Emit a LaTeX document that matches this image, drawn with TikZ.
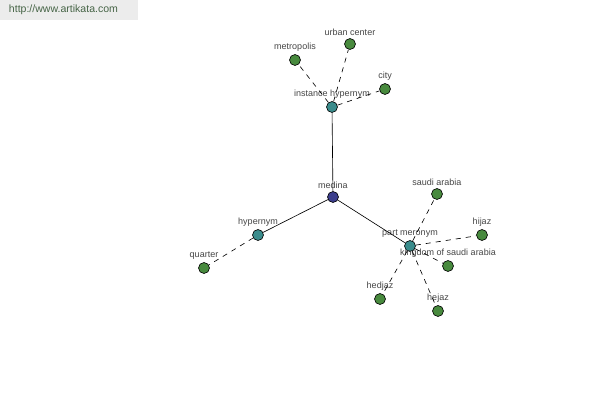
\documentclass[tikz,border=0pt]{standalone}
\usepackage{fontspec}
\setmainfont{Liberation Sans}
\usepackage{xcolor}
\usetikzlibrary{positioning}

\definecolor{leafgreen}{RGB}{72,138,62}
\definecolor{relteal}{RGB}{58,140,140}
\definecolor{rootblue}{RGB}{60,62,140}
\definecolor{labelgray}{RGB}{70,70,70}
\definecolor{bannergray}{RGB}{236,236,236}
\definecolor{bannertext}{RGB}{70,100,70}

\begin{document}
\begin{tikzpicture}[
    x=0.025cm, y=-0.025cm,
    word/.style={circle, draw, line width=0.45pt, inner sep=0pt, minimum size=7.8pt,
                 label={[text=labelgray, font=\fontsize{6.4}{7}\selectfont, label distance=-1.4pt]above:#1}},
    leaf/.style={word=#1, fill=leafgreen},      % leaf words
    rel/.style={word=#1, fill=relteal},         % relation nodes
    root/.style={word=#1, fill=rootblue},       % center word
    link/.style={draw=black, line width=0.45pt},
    dlink/.style={link, dash pattern=on 3.6pt off 3.6pt}
]

% --- CANVAS ---
\useasboundingbox[fill=white] (0,0) rectangle (600,400);
\fill[bannergray] (0,0) rectangle (138,20);
\node[text=bannertext, font=\fontsize{7.5}{9}\selectfont, anchor=west] (site) at (4,10) {http://www.artikata.com};

% --- CENTER AND RELATIONS ---
\node[root=medina] (medina) at (333,197) {};
\node[rel=instance hypernym] (inst) at (332,107) {};
\node[rel=hypernym] (hyper) at (258,235) {};
\node[rel=part meronym] (part) at (410,246) {};

% --- LEAVES ---
\node[leaf=metropolis] (metro) at (295,60) {};
\node[leaf=urban center] (urban) at (350,44) {};
\node[leaf=city] (city) at (385,89) {};
\node[leaf=quarter] (quarter) at (204,268) {};
\node[leaf=saudi arabia] (saudi) at (437,194) {};
\node[leaf=hijaz] (hijaz) at (482,235) {};
\node[leaf=kingdom of saudi arabia] (kingdom) at (448,266) {};
\node[leaf=hedjaz] (hedjaz) at (380,299) {};
\node[leaf=hejaz] (hejaz) at (438,311) {};

% --- SOLID LINKS ---
\draw[link] (medina) -- (inst);
\draw[link] (medina) -- (hyper);
\draw[link] (medina) -- (part);

% --- DASHED LINKS ---
\foreach \a/\b in {inst/metro, inst/urban, inst/city, hyper/quarter,
                   part/saudi, part/hijaz, part/kingdom, part/hedjaz, part/hejaz}
  \draw[dlink] (\a) -- (\b);

\end{tikzpicture}
\end{document}
